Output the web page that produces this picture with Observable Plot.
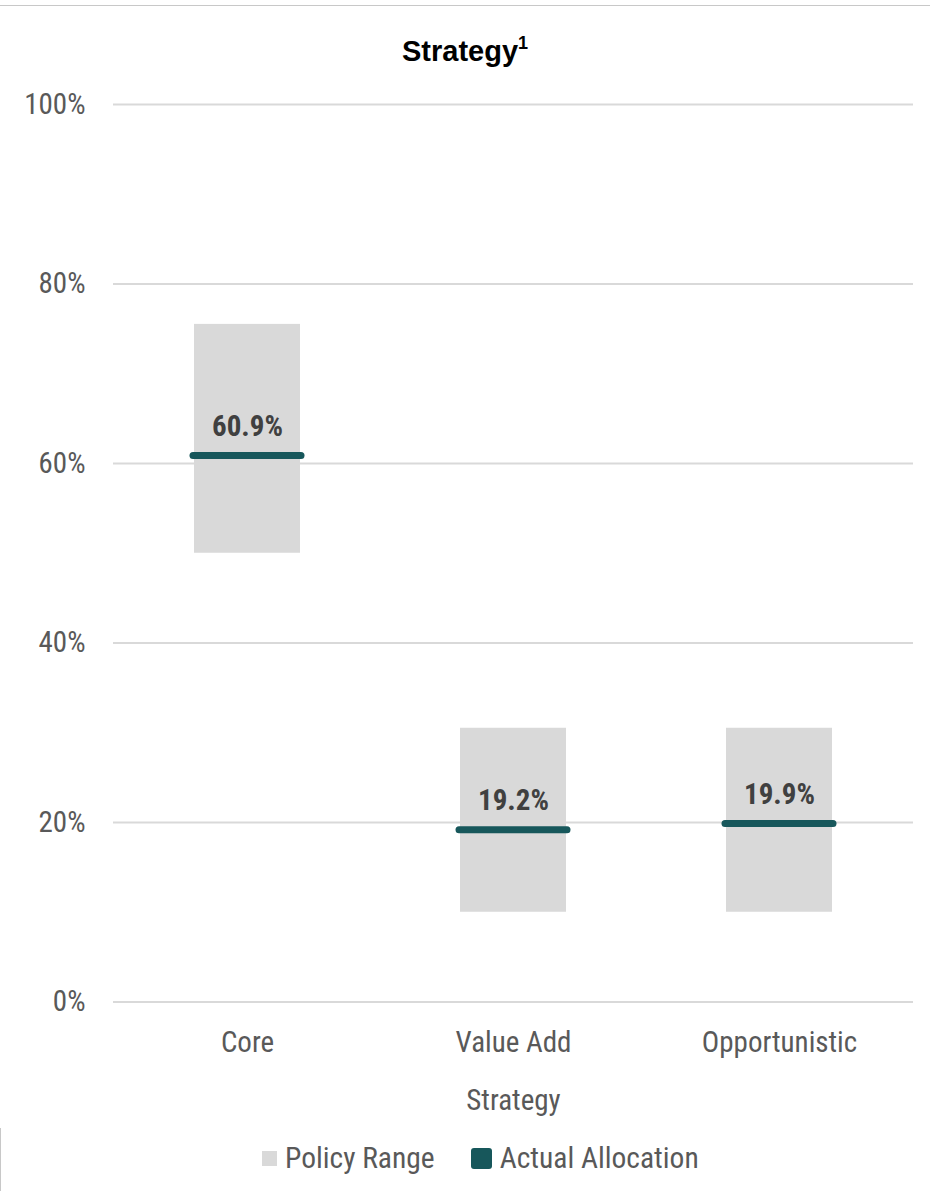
<!DOCTYPE html>
<html>
<head>
<meta charset="utf-8">
<script src="https://cdn.jsdelivr.net/npm/d3@7"></script>
<script src="https://cdn.jsdelivr.net/npm/@observablehq/plot@0.6"></script>
<style>
  body { margin: 0; background: #fff; width: 930px; height: 1191px; overflow: hidden; position: relative; }
  #topline { position: absolute; left: 0; top: 5px; width: 930px; height: 1px; background: #c8c8c8; }
  #leftline { position: absolute; left: 0; top: 1128px; width: 1px; height: 63px; background: #c8c8c8; }
  #title { position: absolute; left: 0; top: 0; width: 930px; height: 80px; text-align: center;
    font-family: "Liberation Sans", Arial, sans-serif; font-weight: bold; font-size: 29px; line-height: 88px; color: #000; }
  #title sup { font-size: 18px; position: relative; top: -1px; }
  #chart { position: absolute; left: 0; top: 80px; }
  #legend { position: absolute; top: 1138px; left: 262px; display: flex; align-items: center;
    font-family: "Roboto Condensed", "Liberation Sans Narrow", sans-serif; font-size: 29.5px; color: #595959; line-height: 40px; }
  .sw { display: inline-block; margin-right: 8px; }
</style>
</head>
<body>
<div id="topline"></div>
<div id="leftline"></div>
<div id="title">Strategy<sup>1</sup></div>
<div id="chart"></div>
<div id="legend">
  <span class="sw" style="width:15px;height:15px;background:#d9d9d9;"></span><span style="margin-right:36px">Policy Range</span>
  <span class="sw" style="width:21px;height:21px;background:#17575b;border-radius:3px;"></span><span>Actual Allocation</span>
</div>
<script>
const categories = ["Core", "Value Add", "Opportunistic"];
const policyMin = [50, 10, 10];
const policyMax = [75.5, 30.5, 30.5];
const actual = [60.9, 19.2, 19.9];
const yTicks = [0, 20, 40, 60, 80, 100];

const data = categories.map((c, i) => ({cat: c, lo: policyMin[i], hi: policyMax[i], actual: actual[i]}));
const narrow = '"Roboto Condensed", "Liberation Sans Narrow", sans-serif';

const plot = Plot.plot({
  width: 930,
  height: 1045,
  marginTop: 24,
  marginBottom: 123.5,
  marginLeft: 113,
  marginRight: 17,
  style: {fontFamily: narrow, background: "transparent"},
  x: {domain: categories, paddingInner: 0.6, paddingOuter: 0.3},
  y: {domain: [0, 100]},
  marks: [
    Plot.ruleY(yTicks, {stroke: "#d9d9d9", strokeWidth: 2}),
    Plot.barY(data, {x: "cat", y1: "lo", y2: "hi", fill: "#d9d9d9"}),
    Plot.tickY(data, {x: "cat", y: "actual", stroke: "#17575b", strokeWidth: 7, strokeLinecap: "round", insetLeft: -1, insetRight: -1}),
    Plot.text(data, {x: "cat", y: "actual", text: d => d.actual.toFixed(1) + "%", dy: -29, fontSize: 29, fontWeight: "bold", fill: "#404040"}),
    Plot.axisY({ticks: yTicks, tickFormat: d => d + "%", tickSize: 0, tickPadding: 28, fontSize: 29, color: "#595959", label: null}),
    Plot.axisX({tickSize: 0, tickPadding: 29, fontSize: 29, color: "#595959", label: null}),
    Plot.text(["Strategy"], {frameAnchor: "bottom", dy: 108, fontSize: 29, fill: "#595959"})
  ]
});
document.getElementById("chart").appendChild(plot);
</script>
</body>
</html>
